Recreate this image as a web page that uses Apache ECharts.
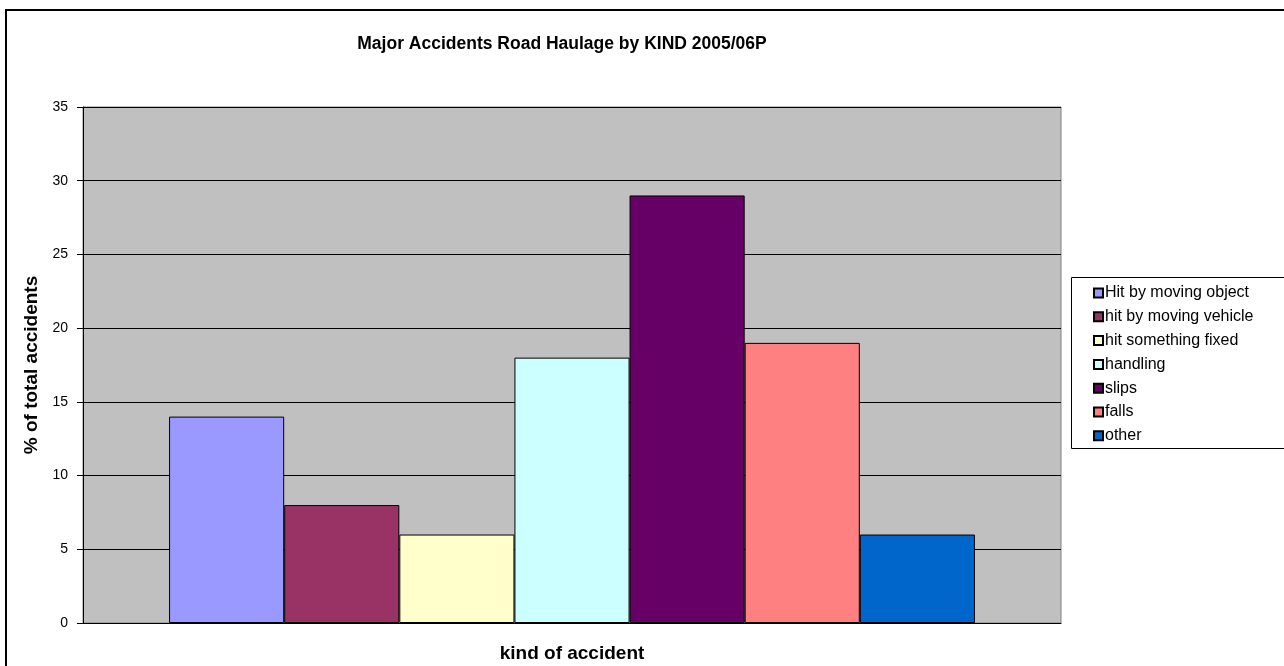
<!DOCTYPE html>
<html>
<head>
<meta charset="utf-8">
<script src="https://cdn.jsdelivr.net/npm/echarts@6/dist/echarts.min.js"></script>
<style>html,body{margin:0;padding:0;background:#fff;}#c{width:1284px;height:666px;}</style>
</head>
<body>
<div id="c"></div>
<script>
const titleText = 'Major Accidents Road Haulage by KIND 2005/06P';
const categories = [''];
const seriesNames = ['Hit by moving object', 'hit by moving vehicle', 'hit something fixed', 'handling', 'slips', 'falls', 'other'];
const seriesValues = [14, 8, 6, 18, 29, 19, 6];
const seriesColors = ['#9999FF', '#993366', '#FFFFCC', '#CCFFFF', '#660066', '#FF8080', '#0066CC'];
const yTicks = { min: 0, max: 35, interval: 5 };

const chart = echarts.init(document.getElementById('c'), null, { renderer: 'canvas' });
const FONT = 'Liberation Sans, Arial, sans-serif';
chart.setOption({
  animation: false,
  backgroundColor: '#ffffff',
  title: {
    text: titleText,
    left: 557, top: 30, textAlign: 'center',
    textStyle: { fontFamily: FONT, fontSize: 17.5, fontWeight: 'bold', color: '#000' }
  },
  graphic: [
    { type: 'rect', shape: { x: 6, y: 10, width: 1300, height: 700 }, style: { fill: 'none', stroke: '#000', lineWidth: 2 }, silent: true, z: 100 },
    { type: 'rect', shape: { x: 1071.5, y: 277.5, width: 220, height: 171 }, style: { fill: '#fff', stroke: '#000', lineWidth: 1 }, silent: true, z: 0 }
  ],
  legend: {
    orient: 'vertical',
    left: 1088, top: 280,
    itemWidth: 9, itemHeight: 9, itemGap: 7.8,
    icon: 'rect',
    data: seriesNames,
    textStyle: { fontFamily: FONT, fontSize: 16, color: '#000', lineHeight: 16, padding: [0, 0, 0, -3] },
    z: 5
  },
  grid: {
    left: 83, top: 107, width: 978, height: 516,
    outerBoundsMode: 'none', containLabel: false,
    show: true, backgroundColor: '#C0C0C0', borderColor: '#808080', borderWidth: 1
  },
  xAxis: {
    type: 'category', data: categories,
    name: 'kind of accident', nameLocation: 'middle', nameGap: 21,
    nameTextStyle: { fontFamily: FONT, fontSize: 19, fontWeight: 'bold', color: '#000' },
    axisLine: { show: true, lineStyle: { color: '#000', width: 1 } },
    axisTick: { show: false }, axisLabel: { show: false },
    splitLine: { show: false }
  },
  yAxis: {
    type: 'value', min: yTicks.min, max: yTicks.max, interval: yTicks.interval,
    name: '% of total accidents', nameLocation: 'middle', nameGap: 37,
    nameTextStyle: { fontFamily: FONT, fontSize: 19, fontWeight: 'bold', color: '#000' },
    axisLine: { show: true, lineStyle: { color: '#000', width: 1 } },
    axisTick: { show: true, inside: false, length: 6, lineStyle: { color: '#000' } },
    axisLabel: { fontFamily: FONT, fontSize: 14, color: '#000', margin: 15 },
    splitLine: { show: true, lineStyle: { color: '#000', width: 1 } }
  },
  series: seriesNames.map((n, i) => ({
    name: n, type: 'bar', data: [seriesValues[i]],
    barGap: '0%', barCategoryGap: '17.6%',
    itemStyle: { color: seriesColors[i], borderColor: '#000', borderWidth: 1 }
  }))
});
</script>
</body>
</html>
